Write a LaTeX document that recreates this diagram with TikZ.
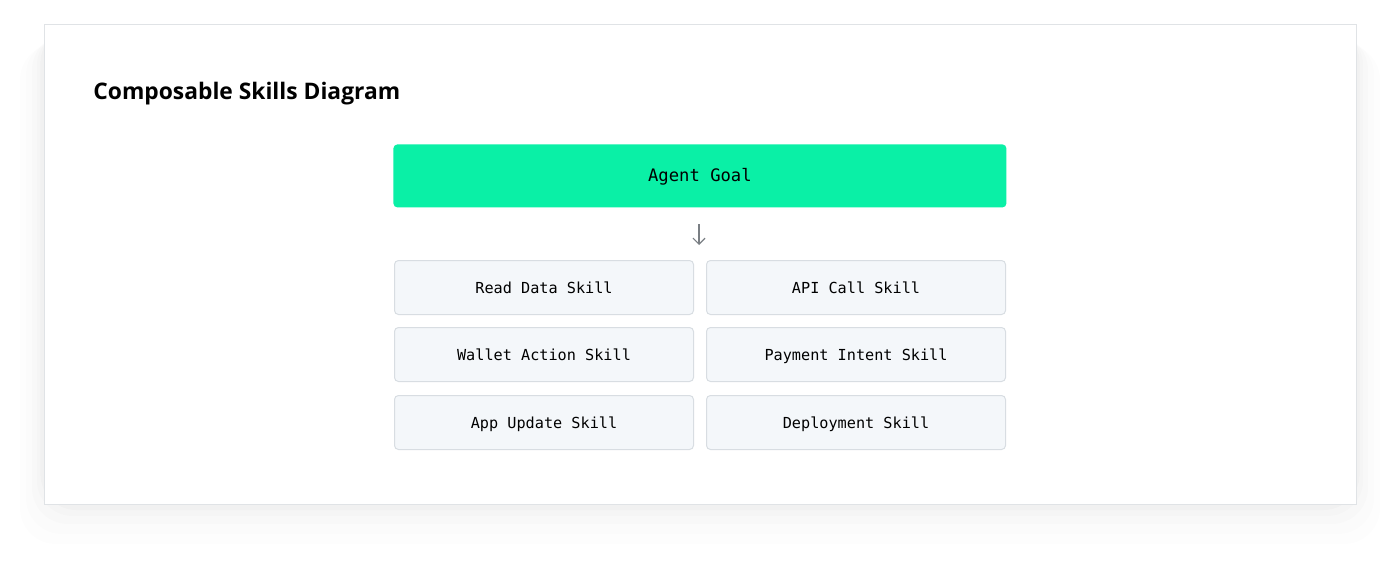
\documentclass[tikz,border=0pt]{standalone}
\usepackage{fontspec}
\setmainfont{Open Sans}
\newfontfamily\skillfont{DejaVu Sans Mono}
\usetikzlibrary{positioning,calc,arrows.meta}

\definecolor{goalgreen}{HTML}{0AF0A6}
\definecolor{skillfill}{HTML}{F4F7FA}
\definecolor{skillline}{HTML}{D8DDE2}
\definecolor{cardline}{HTML}{E0E3E6}
\definecolor{arrowgray}{HTML}{7A7F84}

\begin{document}
\begin{tikzpicture}[x=0.5pt,y=-0.5pt,
	goal/.style={fill=goalgreen, rounded corners=2pt, minimum width=306.5pt, minimum height=31.5pt, inner sep=0pt, text height=0.75em, text depth=0.2em, font=\skillfont\fontsize{8.6pt}{10pt}\selectfont, anchor=north west},
	skill/.style={fill=skillfill, draw=skillline, line width=0.5pt, rounded corners=2pt, minimum width=149.5pt, minimum height=27pt, inner sep=0pt, text height=0.75em, text depth=0.2em, font=\skillfont\fontsize{7.6pt}{9pt}\selectfont, anchor=north west}]
	
	\useasboundingbox (0,0) rectangle (1400,568);
	
	% soft shadow under the card
	\foreach \s/\o in {40/0.006,30/0.008,20/0.010,12/0.012,6/0.014}
		\fill[black,opacity=\o,rounded corners=18pt] (44-\s*0.6,24+\s*0.5) rectangle (1356+\s*0.6,504+\s);
	
	% card
	\draw[cardline,fill=white,line width=0.5pt] (44,24) rectangle (1356,504);
	
	\node[anchor=base west,inner sep=0pt,font=\bfseries\fontsize{11.4pt}{13pt}\selectfont] (title) at (93,99) {Composable Skills Diagram};
	
	\node[goal] (goal) at (393,144) {Agent Goal};
	
	\node[skill] (read) at (394,260) {Read Data Skill};
	\node[skill] (api) at (706,260) {API Call Skill};
	\node[skill] (wallet) at (394,327) {Wallet Action Skill};
	\node[skill] (pay) at (706,327) {Payment Intent Skill};
	\node[skill] (app) at (394,395) {App Update Skill};
	\node[skill] (deploy) at (706,395) {Deployment Skill};
	
	\coordinate (arrtop) at (699,224);
	\coordinate (arrbot) at (699,245);
	\draw[arrowgray,line width=0.6pt,-{Straight Barb[length=3pt,width=6pt]}] (arrtop) -- (arrbot);
	
\end{tikzpicture}
\end{document}
